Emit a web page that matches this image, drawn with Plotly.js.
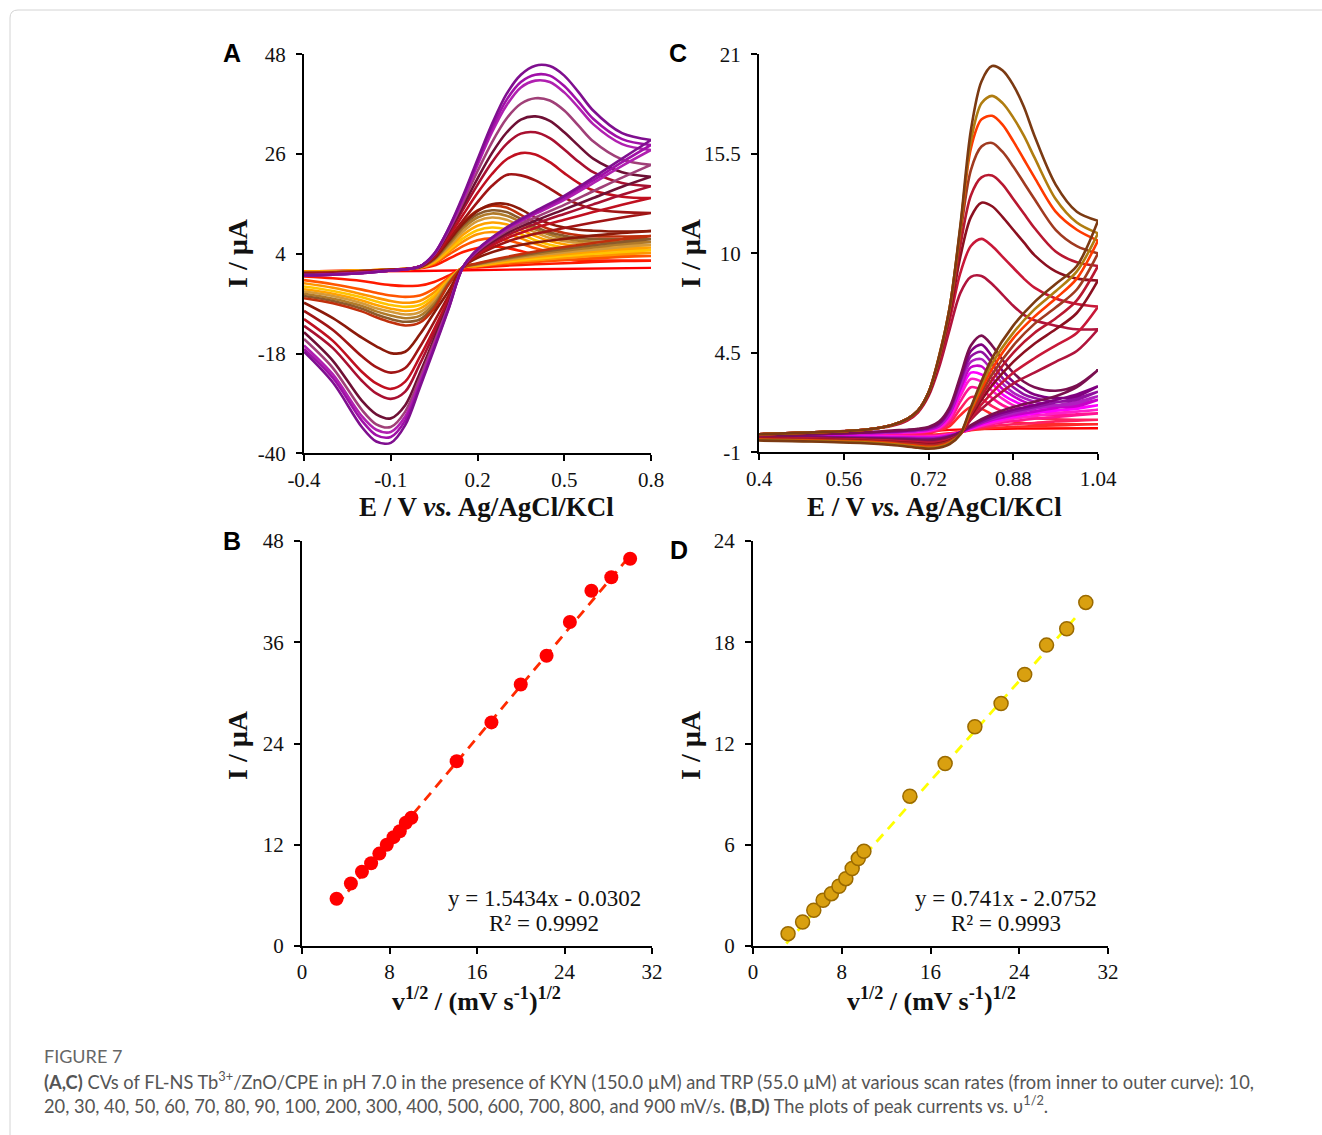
<!DOCTYPE html>
<html>
<head>
<meta charset="utf-8">
<script src="https://cdn.plot.ly/plotly-3.0.1.min.js"></script>
<style>html,body{margin:0;padding:0;background:#fff;}#chart{width:1322px;height:1135px;}</style>
</head>
<body>
<div id="chart"></div>
<script>
// ---------------- DATA ----------------
const scanRates = [10, 20, 30, 40, 50, 60, 70, 80, 90, 100, 200, 300, 400, 500, 600, 700, 800, 900];

// Panel A (KYN) : forward (anodic) and backward (cathodic) potential grids, V
const cvA_forwardE = [-0.4, -0.3, -0.2, -0.1, 0.0, 0.05, 0.1, 0.15, 0.2, 0.25, 0.3, 0.35, 0.4, 0.45, 0.5, 0.55, 0.6, 0.7, 0.8];
const cvA_backwardE = [0.8, 0.7, 0.6, 0.5, 0.4, 0.3, 0.2, 0.15, 0.1, 0.05, 0.0, -0.05, -0.1, -0.15, -0.2, -0.3, -0.4];
// currents (µA), one row per scan rate (10 ... 900 mV/s)
const cvA_forwardI = [
  [0.1, 0.2, 0.3, 0.5, 0.8, 1.4, 2.9, 4.4, 5.3, 5.6, 5.3, 4.6, 3.8, 3.2, 2.8, 2.6, 2.5, 2.5, 2.5],
  [0.1, 0.2, 0.3, 0.5, 0.9, 1.8, 3.8, 5.7, 7.0, 7.4, 7.0, 6.2, 5.2, 4.4, 3.9, 3.6, 3.5, 3.5, 3.5],
  [0.1, 0.1, 0.3, 0.5, 0.9, 2.0, 4.4, 6.7, 8.3, 8.8, 8.4, 7.4, 6.2, 5.3, 4.8, 4.4, 4.3, 4.2, 4.2],
  [0.0, 0.1, 0.3, 0.5, 1.0, 2.2, 4.8, 7.4, 9.2, 9.8, 9.4, 8.3, 7.0, 6.0, 5.4, 5.0, 4.9, 4.8, 4.8],
  [0.0, 0.1, 0.3, 0.5, 1.0, 2.4, 5.2, 8.2, 10.2, 10.9, 10.5, 9.3, 7.9, 6.8, 6.1, 5.7, 5.5, 5.4, 5.4],
  [-0.1, 0.0, 0.2, 0.5, 1.0, 2.6, 5.6, 8.9, 11.2, 12.0, 11.5, 10.2, 8.7, 7.5, 6.8, 6.4, 6.1, 6.0, 6.0],
  [-0.1, 0.0, 0.2, 0.5, 1.0, 2.7, 6.0, 9.6, 12.0, 12.9, 12.4, 11.0, 9.4, 8.2, 7.4, 6.9, 6.7, 6.6, 6.6],
  [-0.2, -0.1, 0.2, 0.5, 1.0, 2.8, 6.4, 10.2, 12.7, 13.6, 13.2, 11.7, 10.0, 8.7, 8.0, 7.5, 7.3, 7.2, 7.2],
  [-0.2, -0.1, 0.2, 0.5, 1.1, 3.0, 6.9, 10.9, 13.6, 14.6, 14.2, 12.6, 10.8, 9.4, 8.6, 8.1, 7.9, 7.8, 7.9],
  [-0.3, -0.2, 0.1, 0.4, 1.1, 3.0, 6.8, 10.6, 13.4, 14.9, 15.0, 13.8, 12.0, 10.6, 9.8, 9.3, 9.1, 8.9, 9.0],
  [-0.4, -0.3, 0.0, 0.4, 1.2, 3.2, 7.2, 11.4, 15.4, 19.0, 21.4, 21.3, 20.2, 18.4, 16.4, 14.9, 13.9, 13.2, 13.0],
  [-0.5, -0.3, -0.1, 0.3, 1.2, 3.4, 7.8, 12.6, 17.4, 21.6, 24.8, 26.2, 25.9, 24.2, 21.8, 19.6, 18.0, 16.6, 16.3],
  [-0.6, -0.4, -0.1, 0.3, 1.2, 3.6, 8.4, 13.8, 19.2, 24.2, 28.2, 30.5, 30.8, 29.5, 27.0, 24.3, 22.0, 19.6, 18.9],
  [-0.6, -0.4, -0.2, 0.3, 1.2, 3.7, 8.8, 14.6, 20.6, 26.2, 30.7, 33.6, 34.3, 33.3, 30.8, 27.8, 25.0, 22.0, 21.0],
  [-0.7, -0.5, -0.2, 0.3, 1.2, 3.8, 9.1, 15.4, 22.2, 28.6, 33.8, 37.1, 38.3, 37.8, 35.6, 32.2, 28.8, 24.8, 23.6],
  [-0.7, -0.5, -0.2, 0.3, 1.2, 3.9, 9.4, 16.0, 23.6, 30.8, 36.7, 40.7, 42.2, 41.9, 39.6, 36.2, 32.6, 28.2, 26.9],
  [-0.8, -0.6, -0.3, 0.3, 1.2, 4.0, 9.5, 16.4, 24.2, 31.7, 37.9, 41.9, 43.5, 43.3, 41.0, 37.5, 33.8, 29.3, 28.0],
  [-0.8, -0.6, -0.3, 0.3, 1.2, 4.0, 9.6, 16.8, 24.8, 32.6, 39.2, 43.5, 45.5, 45.4, 43.3, 39.6, 35.6, 30.6, 29.1]
];
const cvA_backwardI = [
  [2.5, 2.4, 2.2, 1.9, 1.7, 1.4, 1.0, 0.8, -0.8, -2.2, -3.0, -3.1, -2.9, -2.5, -2.0, -1.4, -1.0],
  [3.5, 3.3, 3.0, 2.6, 2.2, 1.8, 1.2, 0.9, -1.3, -3.7, -5.2, -5.5, -5.2, -4.6, -3.9, -2.7, -1.8],
  [4.2, 3.9, 3.5, 3.1, 2.6, 2.1, 1.3, 1.0, -1.6, -4.5, -6.4, -6.8, -6.4, -5.7, -4.9, -3.5, -2.5],
  [4.8, 4.4, 4.0, 3.5, 2.9, 2.3, 1.4, 1.0, -1.8, -5.2, -7.3, -7.7, -7.3, -6.5, -5.6, -4.2, -3.2],
  [5.4, 5.0, 4.5, 3.9, 3.3, 2.5, 1.5, 1.0, -2.0, -5.8, -8.1, -8.6, -8.1, -7.3, -6.3, -4.8, -3.8],
  [6.0, 5.5, 4.9, 4.3, 3.6, 2.7, 1.6, 1.0, -2.2, -6.4, -8.9, -9.4, -8.8, -8.0, -6.9, -5.3, -4.3],
  [6.6, 6.1, 5.4, 4.7, 3.9, 2.9, 1.7, 1.0, -2.4, -7.0, -9.7, -10.2, -9.6, -8.7, -7.5, -5.9, -4.8],
  [7.2, 6.6, 5.9, 5.1, 4.2, 3.1, 1.8, 1.0, -2.6, -7.6, -10.5, -11.0, -10.4, -9.4, -8.1, -6.4, -5.3],
  [7.9, 7.2, 6.4, 5.5, 4.5, 3.3, 1.9, 1.0, -2.8, -8.1, -11.2, -11.8, -11.1, -10.0, -8.7, -6.9, -5.8],
  [9.0, 8.6, 8.0, 7.3, 6.5, 5.3, 3.1, 1.1, -4.2, -9.0, -13.8, -17.6, -17.9, -16.4, -14.5, -10.2, -6.8],
  [13.0, 12.0, 10.9, 9.7, 8.4, 6.6, 3.6, 1.1, -5.2, -11.0, -16.6, -21.2, -22.2, -21.0, -18.6, -12.8, -8.6],
  [16.3, 14.8, 13.2, 11.5, 9.7, 7.4, 3.9, 1.1, -6.0, -12.6, -18.8, -24.2, -25.8, -24.6, -22.0, -15.2, -10.4],
  [18.9, 17.0, 14.9, 12.8, 10.6, 8.0, 4.2, 1.1, -6.6, -13.6, -20.4, -26.4, -28.0, -26.8, -24.0, -16.8, -11.9],
  [21.0, 18.8, 16.3, 13.8, 11.3, 8.5, 4.4, 1.1, -7.1, -14.8, -22.4, -29.4, -32.3, -31.4, -28.4, -19.6, -13.3],
  [23.6, 20.8, 17.8, 14.8, 12.0, 9.0, 4.6, 1.1, -7.5, -15.6, -23.5, -30.8, -34.2, -33.6, -30.4, -21.2, -14.8],
  [26.9, 23.4, 19.6, 15.9, 12.8, 9.4, 4.8, 1.1, -7.8, -16.2, -24.4, -31.9, -35.3, -34.8, -31.8, -22.6, -16.2],
  [28.0, 24.2, 20.2, 16.4, 13.1, 9.6, 4.9, 1.1, -8.0, -16.6, -25.0, -32.8, -36.4, -36.0, -32.8, -23.4, -17.0],
  [29.1, 25.0, 20.8, 16.8, 13.4, 9.8, 5.0, 1.1, -8.2, -17.0, -25.6, -33.8, -37.7, -37.4, -34.2, -24.4, -17.6]
];
const cvA_flatE = [-0.4, 0.0, 0.4, 0.8];
const cvA_flatI = [0.1, 0.2, 0.6, 0.9];

// Panel C (TRP)
const cvC_forwardE = [0.4, 0.5, 0.6, 0.65, 0.68, 0.7, 0.72, 0.74, 0.76, 0.78, 0.8, 0.82, 0.84, 0.86, 0.88, 0.9, 0.92, 0.96, 1.0, 1.04];
const cvC_backwardE = [1.04, 1.0, 0.96, 0.92, 0.88, 0.84, 0.8, 0.78, 0.76, 0.74, 0.72, 0.7, 0.65, 0.6, 0.5, 0.4];
const cvC_forwardI = [
  [0.0, 0.02, 0.03, 0.04, 0.05, 0.06, 0.1, 0.2, 0.45, 1.05, 1.5, 1.4, 1.1, 0.85, 0.7, 0.62, 0.58, 0.55, 0.55, 0.55],
  [-0.05, 0.0, 0.03, 0.05, 0.06, 0.08, 0.12, 0.25, 0.6, 1.4, 2.05, 1.95, 1.55, 1.25, 1.05, 0.95, 0.88, 0.82, 0.8, 0.8],
  [-0.1, 0.0, 0.03, 0.05, 0.08, 0.1, 0.15, 0.3, 0.75, 1.8, 2.6, 2.45, 2.0, 1.6, 1.35, 1.2, 1.1, 1.05, 1.1, 1.15],
  [-0.1, 0.0, 0.05, 0.08, 0.1, 0.12, 0.18, 0.35, 0.9, 2.1, 3.05, 2.9, 2.4, 1.95, 1.6, 1.4, 1.3, 1.2, 1.25, 1.35],
  [-0.1, 0.0, 0.05, 0.1, 0.12, 0.15, 0.2, 0.4, 1.0, 2.3, 3.4, 3.3, 2.8, 2.2, 1.85, 1.6, 1.45, 1.35, 1.4, 1.6],
  [-0.1, 0.0, 0.05, 0.1, 0.15, 0.2, 0.25, 0.45, 1.1, 2.5, 3.7, 3.75, 3.1, 2.5, 2.1, 1.8, 1.6, 1.5, 1.55, 1.9],
  [-0.1, 0.0, 0.05, 0.1, 0.15, 0.2, 0.3, 0.5, 1.2, 2.7, 4.0, 4.15, 3.5, 2.8, 2.3, 2.0, 1.8, 1.6, 1.7, 2.1],
  [-0.1, 0.0, 0.1, 0.15, 0.2, 0.25, 0.3, 0.55, 1.3, 2.9, 4.3, 4.55, 3.9, 3.1, 2.6, 2.2, 2.0, 1.8, 1.9, 2.35],
  [-0.1, 0.0, 0.1, 0.15, 0.2, 0.25, 0.35, 0.6, 1.4, 3.0, 4.6, 4.95, 4.3, 3.5, 2.9, 2.5, 2.2, 2.0, 2.1, 2.65],
  [-0.1, 0.0, 0.1, 0.2, 0.25, 0.3, 0.4, 0.7, 1.5, 3.2, 4.9, 5.45, 4.9, 4.1, 3.4, 2.9, 2.6, 2.4, 2.7, 3.55],
  [0.0, 0.1, 0.25, 0.45, 0.75, 1.2, 2.1, 3.7, 5.8, 7.8, 8.7, 8.75, 8.3, 7.7, 7.1, 6.6, 6.3, 6.0, 5.8, 5.8],
  [0.0, 0.1, 0.25, 0.5, 0.8, 1.25, 2.2, 4.0, 6.3, 8.9, 10.4, 10.8, 10.4, 9.8, 9.2, 8.6, 8.1, 7.5, 7.2, 7.05],
  [0.0, 0.1, 0.25, 0.5, 0.85, 1.3, 2.2, 4.1, 6.6, 9.8, 12.0, 12.8, 12.6, 12.0, 11.3, 10.6, 9.9, 9.0, 8.6, 8.5],
  [0.0, 0.1, 0.25, 0.5, 0.85, 1.3, 2.3, 4.2, 6.8, 10.4, 13.2, 14.2, 14.3, 13.8, 13.0, 12.2, 11.4, 10.1, 9.5, 9.3],
  [0.0, 0.1, 0.25, 0.5, 0.85, 1.3, 2.3, 4.2, 6.9, 11.0, 14.6, 15.9, 16.1, 15.6, 14.8, 13.9, 13.0, 11.3, 10.4, 10.0],
  [0.0, 0.1, 0.25, 0.5, 0.85, 1.3, 2.3, 4.3, 7.0, 11.3, 15.8, 17.4, 17.6, 17.1, 16.2, 15.2, 14.2, 12.3, 11.3, 10.7],
  [0.0, 0.1, 0.25, 0.5, 0.85, 1.3, 2.3, 4.3, 7.0, 11.4, 16.2, 18.3, 18.7, 18.3, 17.5, 16.5, 15.3, 13.0, 11.7, 11.1],
  [0.0, 0.1, 0.25, 0.5, 0.85, 1.3, 2.3, 4.3, 7.0, 11.5, 16.8, 19.5, 20.35, 20.1, 19.3, 18.1, 16.5, 13.8, 12.3, 11.8]
];
const cvC_backwardI = [
  [0.55, 0.52, 0.48, 0.45, 0.4, 0.35, 0.22, 0.12, 0.05, 0.0, -0.02, -0.03, -0.03, -0.02, -0.01, 0.0],
  [0.8, 0.75, 0.7, 0.62, 0.55, 0.45, 0.25, 0.1, 0.02, -0.04, -0.06, -0.07, -0.06, -0.05, -0.04, -0.02],
  [1.15, 1.05, 0.95, 0.85, 0.72, 0.55, 0.28, 0.1, 0.0, -0.07, -0.1, -0.1, -0.09, -0.08, -0.06, -0.04],
  [1.35, 1.25, 1.15, 1.0, 0.85, 0.62, 0.3, 0.1, -0.02, -0.1, -0.13, -0.14, -0.12, -0.1, -0.08, -0.06],
  [1.6, 1.45, 1.3, 1.15, 0.95, 0.7, 0.32, 0.1, -0.04, -0.14, -0.17, -0.17, -0.15, -0.13, -0.1, -0.08],
  [1.9, 1.65, 1.45, 1.25, 1.05, 0.78, 0.35, 0.1, -0.06, -0.17, -0.2, -0.2, -0.18, -0.16, -0.12, -0.1],
  [2.1, 1.8, 1.6, 1.4, 1.15, 0.85, 0.4, 0.1, -0.08, -0.2, -0.23, -0.22, -0.2, -0.18, -0.14, -0.12],
  [2.35, 2.0, 1.75, 1.5, 1.25, 0.9, 0.4, 0.1, -0.1, -0.22, -0.26, -0.25, -0.22, -0.2, -0.16, -0.14],
  [2.65, 2.2, 1.9, 1.6, 1.35, 1.0, 0.45, 0.1, -0.12, -0.25, -0.3, -0.28, -0.25, -0.22, -0.18, -0.16],
  [3.55, 2.6, 2.1, 1.8, 1.5, 1.1, 0.5, 0.1, -0.15, -0.3, -0.35, -0.33, -0.28, -0.24, -0.2, -0.18],
  [5.8, 4.6, 4.0, 3.4, 2.8, 1.9, 0.8, 0.0, -0.28, -0.4, -0.45, -0.42, -0.35, -0.3, -0.24, -0.2],
  [7.05, 5.6, 4.9, 4.2, 3.4, 2.3, 0.9, 0.0, -0.3, -0.45, -0.5, -0.45, -0.38, -0.32, -0.26, -0.22],
  [8.5, 6.7, 5.8, 5.0, 4.0, 2.7, 1.0, 0.0, -0.35, -0.5, -0.55, -0.5, -0.42, -0.35, -0.28, -0.24],
  [9.3, 7.4, 6.4, 5.6, 4.5, 3.0, 1.1, 0.0, -0.38, -0.55, -0.6, -0.55, -0.45, -0.38, -0.3, -0.26],
  [10.0, 8.0, 7.0, 6.1, 4.9, 3.3, 1.2, 0.0, -0.4, -0.6, -0.65, -0.6, -0.48, -0.4, -0.33, -0.28],
  [10.7, 8.6, 7.5, 6.5, 5.3, 3.6, 1.3, 0.0, -0.45, -0.65, -0.7, -0.65, -0.5, -0.42, -0.35, -0.3],
  [11.1, 9.0, 7.9, 6.9, 5.6, 3.9, 1.4, 0.0, -0.5, -0.7, -0.75, -0.7, -0.55, -0.45, -0.38, -0.32],
  [11.8, 9.3, 8.3, 7.3, 6.0, 4.2, 1.5, 0.0, -0.55, -0.75, -0.8, -0.75, -0.6, -0.5, -0.4, -0.35]
];
const cvC_flatE = [0.4, 0.7, 0.8, 1.04];
const cvC_flatI = [-0.1, 0.15, 0.28, 0.33];

// Panels B and D : peak current vs square root of scan rate
const sqrtScanRate = [3.16, 4.47, 5.48, 6.32, 7.07, 7.75, 8.37, 8.94, 9.49, 10.0, 14.14, 17.32, 20.0, 22.36, 24.49, 26.46, 28.28, 30.0];
const peakB = [5.6, 7.4, 8.8, 9.8, 10.95, 12.0, 12.9, 13.6, 14.6, 15.2, 21.9, 26.5, 31.0, 34.4, 38.4, 42.1, 43.7, 45.9];
const peakD = [0.73, 1.42, 2.12, 2.71, 3.10, 3.54, 3.99, 4.59, 5.18, 5.61, 8.88, 10.81, 12.99, 14.37, 16.09, 17.83, 18.80, 20.36];
const fitB = {slope: 1.5434, intercept: -0.0302, xRange: [3.2, 29.8], eq: 'y = 1.5434x - 0.0302', r2: 'R² = 0.9992'};
const fitD = {slope: 0.741, intercept: -2.0752, xRange: [3.0, 29.3], eq: 'y = 0.741x - 2.0752', r2: 'R² = 0.9993'};

// tick labels
const tickA_x = [-0.4, -0.1, 0.2, 0.5, 0.8], tickA_xText = ['-0.4', '-0.1', '0.2', '0.5', '0.8'];
const tickA_y = [48, 26, 4, -18, -40], tickA_yText = ['48', '26', '4', '-18', '-40'];
const tickC_x = [0.4, 0.56, 0.72, 0.88, 1.04], tickC_xText = ['0.4', '0.56', '0.72', '0.88', '1.04'];
const tickC_y = [21, 15.5, 10, 4.5, -1], tickC_yText = ['21', '15.5', '10', '4.5', '-1'];
const tickBD_x = [0, 8, 16, 24, 32];
const tickB_y = [0, 12, 24, 36, 48];
const tickD_y = [0, 6, 12, 18, 24];

// ---------------- STYLE ----------------
const colorsA = ['#ff1a00','#ff5500','#ff9500','#ffc400','#ffa200','#d49a3a','#b07a2a','#8b5a2b','#c0300c',
                 '#8b1a0a','#a01515','#c01020','#a81030','#6e1035','#a04078','#b020b0','#a010a8','#7f0f8f'];
const colorsC = ['#ff2a2a','#ff2060','#ff1493','#ff20c8','#ff00ff','#c800c8','#b020c0','#9010a0','#800080',
                 '#7a1050','#b0143c','#c81838','#8b1020','#b81830','#a03a20','#ff3a00','#b07d10','#7b3a12'];

const W = 1322, H = 1135;
const px = x => x / W;
const py = y => 1 - y / H;
const serif = 'Liberation Serif, Times New Roman, serif';

const traces = [];
traces.push({x: cvA_flatE, y: cvA_flatI, xaxis: 'x', yaxis: 'y', mode: 'lines',
  line: {color: '#ff0000', width: 2.4, shape: 'spline'}, showlegend: false, hoverinfo: 'skip'});
scanRates.forEach((r, i) => {
  traces.push({
    x: cvA_forwardE.concat(cvA_backwardE), y: cvA_forwardI[i].concat(cvA_backwardI[i]),
    xaxis: 'x', yaxis: 'y', mode: 'lines', name: r + ' mV/s',
    line: {color: colorsA[i], width: 2.6, shape: 'spline', smoothing: 0.9}, showlegend: false
  });
});
traces.push({x: cvC_flatE, y: cvC_flatI, xaxis: 'x2', yaxis: 'y2', mode: 'lines',
  line: {color: '#ff0000', width: 2.4, shape: 'spline'}, showlegend: false, hoverinfo: 'skip'});
scanRates.forEach((r, i) => {
  traces.push({
    x: cvC_forwardE.concat(cvC_backwardE), y: cvC_forwardI[i].concat(cvC_backwardI[i]),
    xaxis: 'x2', yaxis: 'y2', mode: 'lines', name: r + ' mV/s',
    line: {color: colorsC[i], width: 2.6, shape: 'spline', smoothing: 0.9}, showlegend: false
  });
});
// B
traces.push({x: fitB.xRange, y: fitB.xRange.map(v => fitB.slope * v + fitB.intercept), xaxis: 'x3', yaxis: 'y3',
  mode: 'lines', line: {color: '#ff2a00', width: 2.8, dash: '10px,7px'}, showlegend: false});
traces.push({x: sqrtScanRate, y: peakB, xaxis: 'x3', yaxis: 'y3', mode: 'markers',
  marker: {color: '#ff0000', size: 14, line: {width: 0}}, showlegend: false});
// D
traces.push({x: fitD.xRange, y: fitD.xRange.map(v => fitD.slope * v + fitD.intercept), xaxis: 'x4', yaxis: 'y4',
  mode: 'lines', line: {color: '#ffff00', width: 2.8, dash: '10px,7px'}, showlegend: false});
traces.push({x: sqrtScanRate, y: peakD, xaxis: 'x4', yaxis: 'y4', mode: 'markers',
  marker: {color: '#d9a010', size: 14, line: {width: 1.5, color: '#9a6a00'}}, showlegend: false});

function axis(domainPx, horizontal, range, tickvals, ticktext, anchor) {
  const d = horizontal ? [px(domainPx[0]), px(domainPx[1])] : [py(domainPx[1]), py(domainPx[0])];
  return {
    domain: d, range: range, anchor: anchor, tickmode: 'array', tickvals: tickvals, ticktext: ticktext,
    showgrid: false, zeroline: false, showline: true, linecolor: '#000', linewidth: 2,
    ticks: 'outside', ticklen: 6, tickwidth: 2, tickcolor: '#000',
    tickfont: {family: serif, size: 21, color: '#111'}, ticklabelstandoff: horizontal ? 0 : 6,
    fixedrange: true
  };
}

const layout = {
  width: W, height: H, margin: {l: 0, r: 0, t: 0, b: 0}, paper_bgcolor: '#fff', plot_bgcolor: 'rgba(0,0,0,0)',
  showlegend: false,
  xaxis: axis([304, 651], true, [-0.4, 0.8], tickA_x, tickA_xText, 'y'),
  yaxis: axis([54.3, 453.3], false, [-40, 48], tickA_y, tickA_yText, 'x'),
  xaxis2: axis([759, 1098], true, [0.4, 1.04], tickC_x, tickC_xText, 'y2'),
  yaxis2: axis([54.3, 452.3], false, [-1, 21], tickC_y, tickC_yText, 'x2'),
  xaxis3: axis([302, 652], true, [0, 32], tickBD_x, tickBD_x.map(String), 'y3'),
  yaxis3: axis([541, 946], false, [0, 48], tickB_y, tickB_y.map(String), 'x3'),
  xaxis4: axis([753, 1108], true, [0, 32], tickBD_x, tickBD_x.map(String), 'y4'),
  yaxis4: axis([541, 946], false, [0, 24], tickD_y, tickD_y.map(String), 'x4'),
  shapes: [{
    type: 'path', xref: 'paper', yref: 'paper',
    path: `M ${px(10)},${py(1160)} L ${px(10)},${py(18)} Q ${px(10)},${py(10)} ${px(18)},${py(10)} L ${px(1340)},${py(10)}`,
    line: {color: '#d4d4d4', width: 1}
  }],
  annotations: []
};

const ann = layout.annotations;
function paperText(text, x, y, font, extra) {
  ann.push(Object.assign({text: text, x: px(x), y: py(y), xref: 'paper', yref: 'paper', showarrow: false,
    xanchor: 'center', yanchor: 'middle', font: font}, extra || {}));
}
const letterFont = {family: 'Liberation Sans, Arial, sans-serif', size: 25, color: '#000'};
paperText('<b>A</b>', 232, 53, letterFont);
paperText('<b>C</b>', 678, 53, letterFont);
paperText('<b>B</b>', 232, 541, letterFont);
paperText('<b>D</b>', 679, 550, letterFont);

const titleFont = {family: serif, size: 27, color: '#111'};
const yTitleFont = {family: serif, size: 28, color: '#111'};
paperText('<b>E / V <i>vs.</i> Ag/AgCl/KCl</b>', 486, 507, titleFont);
paperText('<b>E / V <i>vs.</i> Ag/AgCl/KCl</b>', 934, 507, titleFont);
paperText('<b>v<sup>1/2</sup> / (mV s<sup>-1</sup>)<sup>1/2</sup></b>', 477, 999, {family: serif, size: 26, color: '#111'});
paperText('<b>v<sup>1/2</sup> / (mV s<sup>-1</sup>)<sup>1/2</sup></b>', 931, 999, {family: serif, size: 26, color: '#111'});
paperText('<b>I / µA</b>', 237, 253, yTitleFont, {textangle: -90});
paperText('<b>I / µA</b>', 690, 253, yTitleFont, {textangle: -90});
paperText('<b>I / µA</b>', 237, 745, yTitleFont, {textangle: -90});
paperText('<b>I / µA</b>', 690, 745, yTitleFont, {textangle: -90});

const eqFont = {family: serif, size: 23, color: '#111'};
paperText(fitB.eq, 544, 898, eqFont);
paperText(fitB.r2, 544, 923, eqFont);
paperText(fitD.eq, 1006, 898, eqFont);
paperText(fitD.r2, 1006, 923, eqFont);

const capFont = {family: 'Lato, Open Sans, sans-serif', size: 18.3, color: '#555'};
paperText('FIGURE 7', 42, 1056, {family: 'Lato, Open Sans, sans-serif', size: 18, color: '#666'}, {xanchor: 'left'});
paperText('<b>(A,C)</b> CVs of FL-NS Tb<sup>3+</sup>/ZnO/CPE in pH 7.0 in the presence of KYN (150.0 µM) and TRP (55.0 µM) at various scan rates (from inner to outer curve): 10,',
  42, 1080, capFont, {xanchor: 'left'});
paperText('20, 30, 40, 50, 60, 70, 80, 90, 100, 200, 300, 400, 500, 600, 700, 800, and 900 mV/s. <b>(B,D)</b> The plots of peak currents vs. υ<sup>1/2</sup>.',
  42, 1104, capFont, {xanchor: 'left'});

Plotly.newPlot('chart', traces, layout, {staticPlot: true, displayModeBar: false});
</script>
</body>
</html>
